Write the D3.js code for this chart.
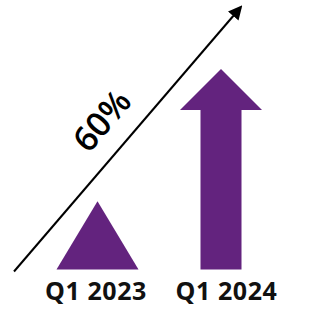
<!DOCTYPE html>
<html lang="en">
<head>
    <meta charset="UTF-8">
    <script src="https://cdn.jsdelivr.net/npm/d3@7"></script>
    <style>
        body { margin: 0; background: #fff; }
    </style>
</head>
<body>
<script>
    const width = 325;
    const height = 309;

    // data
    const categories = ["Q1 2023", "Q1 2024"];
    const values = [34, 100];          // relative size, Q1 2023 vs Q1 2024
    const growthLabel = "60%";
    const purple = "#63237e";

    const svg = d3.select("body").append("svg")
        .attr("width", width)
        .attr("height", height);

    const x = d3.scalePoint().domain(categories).range([97.5, 221]);
    const xLabel = d3.scalePoint().domain(categories).range([96, 226.5]);
    const y = d3.scaleLinear().domain([0, 100]).range([269.5, 69]);

    const halfW = 41;      // half width of triangle / arrow head
    const shaftW = 20.5;   // half width of arrow shaft
    const headH = 41;      // arrow head height

    // Q1 2023 : triangle
    const triPath = (c, v) => {
        const cx = x(c);
        return `M${cx - halfW},${y(0)} L${cx},${y(v)} L${cx + halfW},${y(0)} Z`;
    };
    // Q1 2024 : block arrow
    const arrowPath = (c, v) => {
        const cx = x(c), top = y(v), hb = top + headH;
        return `M${cx - shaftW},${y(0)} L${cx - shaftW},${hb} L${cx - halfW},${hb} L${cx},${top}` +
               ` L${cx + halfW},${hb} L${cx + shaftW},${hb} L${cx + shaftW},${y(0)} Z`;
    };

    svg.selectAll("path.shape")
        .data(categories)
        .join("path")
        .attr("class", "shape")
        .attr("d", (c, i) => i === 0 ? triPath(c, values[i]) : arrowPath(c, values[i]))
        .attr("fill", purple);

    svg.selectAll("text.cat")
        .data(categories)
        .join("text")
        .attr("class", "cat")
        .attr("x", d => xLabel(d))
        .attr("y", 300)
        .attr("text-anchor", "middle")
        .attr("font-family", "'Open Sans', sans-serif")
        .attr("font-weight", "bold")
        .attr("font-size", "25px")
        .attr("letter-spacing", "0.6px")
        .attr("fill", "#111")
        .text(d => d);

    // trend arrow
    svg.append("defs").append("marker")
        .attr("id", "head")
        .attr("viewBox", "0 0 10 10")
        .attr("refX", 8).attr("refY", 5)
        .attr("markerWidth", 7).attr("markerHeight", 7)
        .attr("markerUnits", "strokeWidth")
        .attr("orient", "auto")
        .append("path")
        .attr("d", "M0,0 L10,5 L0,10 Z")
        .attr("fill", "#000");

    const x0 = 14, y0 = 271.5, x1 = 240.5, y1 = 7.5;
    svg.append("line")
        .attr("x1", x0).attr("y1", y0)
        .attr("x2", x1).attr("y2", y1)
        .attr("stroke", "#000")
        .attr("stroke-width", 2)
        .attr("marker-end", "url(#head)");

    const angle = Math.atan2(y1 - y0, x1 - x0) * 180 / Math.PI;
    svg.append("text")
        .attr("transform", `translate(101,120) rotate(${angle})`)
        .attr("text-anchor", "middle")
        .attr("dominant-baseline", "central")
        .attr("font-family", "'Open Sans', sans-serif")
        .attr("font-weight", 600)
        .attr("font-size", "34px")
        .attr("fill", "#000")
        .text(growthLabel);
</script>
</body>
</html>
